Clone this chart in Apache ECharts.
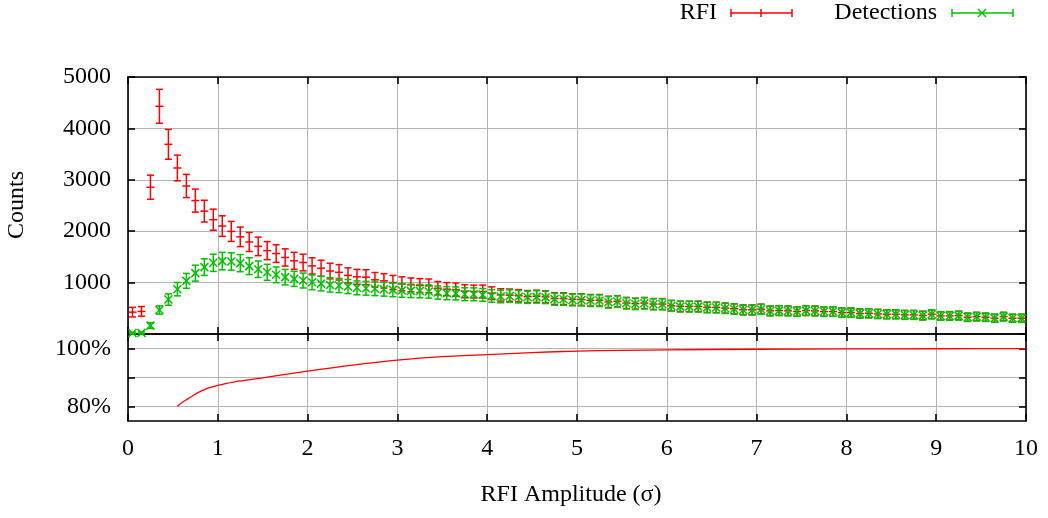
<!DOCTYPE html>
<html>
<head>
<meta charset="utf-8">
<script src="https://cdn.jsdelivr.net/npm/echarts@6/dist/echarts.min.js"></script>
<style>
html,body{margin:0;padding:0;background:#fff;}
#chart{width:1048px;height:518px;}
</style>
</head>
<body>
<div id="chart"></div>
<script>
// ---- data ----
const binCenters = [0.05,0.15,0.25,0.35,0.45,0.55,0.65,0.75,0.85,0.95,
1.05,1.15,1.25,1.35,1.45,1.55,1.65,1.75,1.85,1.95,
2.05,2.15,2.25,2.35,2.45,2.55,2.65,2.75,2.85,2.95,
3.05,3.15,3.25,3.35,3.45,3.55,3.65,3.75,3.85,3.95,
4.05,4.15,4.25,4.35,4.45,4.55,4.65,4.75,4.85,4.95,
5.05,5.15,5.25,5.35,5.45,5.55,5.65,5.75,5.85,5.95,
6.05,6.15,6.25,6.35,6.45,6.55,6.65,6.75,6.85,6.95,
7.05,7.15,7.25,7.35,7.45,7.55,7.65,7.75,7.85,7.95,
8.05,8.15,8.25,8.35,8.45,8.55,8.65,8.75,8.85,8.95,
9.05,9.15,9.25,9.35,9.45,9.55,9.65,9.75,9.85,9.95];

const rfiCounts = [425,440,2855,4430,3690,3230,2880,2595,2390,2224,
2100,1996,1890,1790,1705,1622,1565,1489,1424,1391,
1325,1280,1225,1200,1140,1112,1106,1054,1034,1001,
976,956,943,937,891,872,865,833,826,826,
794,761,755,745,728,735,722,690,688,672,
670,656,656,624,636,603,590,602,583,583,
550,537,536,536,520,517,504,491,471,470,
483,451,457,451,438,456,450,437,437,417,
417,398,404,391,385,385,372,372,359,385,
352,352,359,326,339,326,307,339,307,307];

const rfiErrors = [93,94,235,330,290,250,225,225,212,205,
200,195,190,185,180,176,172,168,165,162,
158,155,152,150,147,145,145,142,140,138,
136,135,134,133,130,128,128,126,125,125,
123,120,120,119,118,118,117,115,115,113,
113,112,112,110,111,108,107,108,106,106,
104,102,102,102,100,100,99,97,95,95,
96,93,94,93,92,94,93,92,92,90,
90,88,88,87,86,86,85,85,83,86,
82,82,83,79,81,79,77,81,77,77];

const detCounts = [20,22,163,468,670,872,1034,1184,1301,1385,
1418,1411,1379,1320,1260,1200,1151,1106,1073,1040,
1005,980,955,943,923,898,890,880,870,858,
845,839,835,826,806,794,790,774,772,761,
741,730,738,725,715,722,712,678,676,663,
663,650,650,618,631,598,585,598,579,579,
546,533,533,533,516,514,501,488,468,468,
481,449,455,449,436,455,449,436,436,416,
416,396,403,390,384,384,371,371,358,384,
351,351,358,325,338,325,306,338,306,306];

const detErrors = [15,15,55,80,110,130,145,155,162,168,
170,169,167,164,160,156,153,150,147,145,
143,141,139,138,137,135,134,133,133,132,
131,130,130,129,128,127,126,125,125,124,
122,122,122,121,120,121,120,117,117,116,
116,115,115,112,113,110,109,110,108,108,
105,104,104,104,102,102,101,99,97,97,
99,95,96,95,94,96,95,94,94,92,
92,90,90,89,88,88,87,87,85,88,
84,84,85,81,83,81,79,83,79,79];

const fracX = [0.55,0.6,0.67,0.73,0.78,0.85,0.9,1.0,1.1,1.2,1.5,2.0,2.5,3.0,3.5,4.0,4.5,5.0,5.5,6.0,7.0,8.0,9.0,10.0];
const fracPct = [80.1,81.3,82.7,83.9,84.8,85.8,86.4,87.3,88.0,88.6,89.9,92.2,94.3,96.0,97.2,97.9,98.6,99.1,99.35,99.55,99.75,99.85,99.92,99.97];

const xTicks = [0,1,2,3,4,5,6,7,8,9,10];
const countTicks = [1000,2000,3000,4000,5000];
const pctTicks = [80,100];
const pctGrid = [80,90,100];

// ---- chart ----
const FONT = '"Liberation Serif", "Times New Roman", serif';
const RED = '#ff0000';
const GREEN = '#00c000';
const GRID_COLOR = '#b3b3b3';
const LW = 1.5;

const chart = echarts.init(document.getElementById('chart'), null, {renderer: 'canvas'});

function errData(xs, ys, es) {
  return xs.map((x, i) => [x, ys[i], es[i]]);
}

function errRender(kind, color) {
  return function (params, api) {
    const x = api.value(0), y = api.value(1), e = api.value(2);
    const c = api.coord([x, y]);
    const hi = api.coord([x, y + e]);
    const lo = api.coord([x, y - e]);
    const cap = 3.5;
    const st = {stroke: color, lineWidth: LW, fill: null};
    const ch = [
      {type: 'line', shape: {x1: c[0], y1: hi[1], x2: c[0], y2: lo[1]}, style: st},
      {type: 'line', shape: {x1: c[0] - cap, y1: hi[1], x2: c[0] + cap, y2: hi[1]}, style: st},
      {type: 'line', shape: {x1: c[0] - cap, y1: lo[1], x2: c[0] + cap, y2: lo[1]}, style: st}
    ];
    if (kind === 'plus') {
      ch.push({type: 'line', shape: {x1: c[0] - 4, y1: c[1], x2: c[0] + 4, y2: c[1]}, style: st});
    } else {
      const s = 4;
      ch.push({type: 'line', shape: {x1: c[0] - s, y1: c[1] - s, x2: c[0] + s, y2: c[1] + s}, style: st});
      ch.push({type: 'line', shape: {x1: c[0] - s, y1: c[1] + s, x2: c[0] + s, y2: c[1] - s}, style: st});
    }
    return {type: 'group', children: ch};
  };
}

const axisLineStyle = {color: '#000', width: 1.6};
function xAx(grid, pos, labels, split) {
  return {
    type: 'value', gridIndex: grid, position: pos, min: 0, max: 10, interval: 1,
    axisLine: {show: true, onZero: false, lineStyle: axisLineStyle},
    axisTick: {show: true, inside: true, length: 7, lineStyle: axisLineStyle},
    axisLabel: {show: labels, color: '#000', fontSize: 24, fontFamily: FONT, margin: 16},
    splitLine: {show: split, lineStyle: {color: GRID_COLOR, width: 1}}
  };
}

const option = {
  animation: false,
  backgroundColor: '#fff',
  grid: [
    {left: 128, top: 77, width: 898, height: 257},
    {left: 128, top: 334, width: 898, height: 87}
  ],
  xAxis: [
    xAx(0, 'bottom', false, true),
    xAx(0, 'top', false, false),
    xAx(1, 'bottom', true, true),
    xAx(1, 'top', false, false)
  ],
  yAxis: [
    {
      type: 'value', gridIndex: 0, position: 'left', min: 0, max: 5000, interval: 1000,
      axisLine: {show: true, onZero: false, lineStyle: axisLineStyle},
      axisTick: {show: true, inside: true, length: 7, lineStyle: axisLineStyle},
      axisLabel: {show: true, color: '#000', fontSize: 24, fontFamily: FONT, margin: 17,
        formatter: v => (countTicks.indexOf(v) >= 0 ? String(v) : '')},
      splitLine: {show: true, lineStyle: {color: GRID_COLOR, width: 1}}
    },
    {
      type: 'value', gridIndex: 0, position: 'right', min: 0, max: 5000, interval: 1000,
      axisLine: {show: true, onZero: false, lineStyle: axisLineStyle},
      axisTick: {show: true, inside: true, length: 7, lineStyle: axisLineStyle},
      axisLabel: {show: false}, splitLine: {show: false}
    },
    {
      type: 'value', gridIndex: 1, position: 'left', min: 75, max: 105,
      axisLine: {show: true, onZero: false, lineStyle: axisLineStyle},
      axisTick: {show: true, inside: true, length: 7, lineStyle: axisLineStyle, customValues: pctGrid},
      axisLabel: {show: true, color: '#000', fontSize: 24, fontFamily: FONT, margin: 17,
        customValues: pctTicks, formatter: v => v + '%'},
      splitLine: {show: true, lineStyle: {color: GRID_COLOR, width: 1}}
    },
    {
      type: 'value', gridIndex: 1, position: 'right', min: 75, max: 105,
      axisLine: {show: true, onZero: false, lineStyle: axisLineStyle},
      axisTick: {show: true, inside: true, length: 7, lineStyle: axisLineStyle, customValues: pctGrid},
      axisLabel: {show: false}, splitLine: {show: false}
    }
  ],
  graphic: [
    {type: 'text', x: 17, y: 205, rotation: Math.PI / 2,
      style: {text: 'Counts', font: '24px ' + FONT, fill: '#000', align: 'center', verticalAlign: 'middle'}},
    {type: 'text', x: 571, y: 495,
      style: {text: 'RFI Amplitude (σ)', font: '24px ' + FONT, fill: '#000', align: 'center', verticalAlign: 'middle'}},
    // legend
    {type: 'text', x: 717, y: 13,
      style: {text: 'RFI', font: '24px ' + FONT, fill: '#000', align: 'right', verticalAlign: 'middle'}},
    {type: 'line', shape: {x1: 731, y1: 13, x2: 792, y2: 13}, style: {stroke: RED, lineWidth: LW}},
    {type: 'line', shape: {x1: 731, y1: 9, x2: 731, y2: 17}, style: {stroke: RED, lineWidth: LW}},
    {type: 'line', shape: {x1: 792, y1: 9, x2: 792, y2: 17}, style: {stroke: RED, lineWidth: LW}},
    {type: 'line', shape: {x1: 761, y1: 9, x2: 761, y2: 17}, style: {stroke: RED, lineWidth: LW}},
    {type: 'text', x: 937, y: 13,
      style: {text: 'Detections', font: '24px ' + FONT, fill: '#000', align: 'right', verticalAlign: 'middle'}},
    {type: 'line', shape: {x1: 952, y1: 13, x2: 1013, y2: 13}, style: {stroke: GREEN, lineWidth: LW}},
    {type: 'line', shape: {x1: 952, y1: 9, x2: 952, y2: 17}, style: {stroke: GREEN, lineWidth: LW}},
    {type: 'line', shape: {x1: 1013, y1: 9, x2: 1013, y2: 17}, style: {stroke: GREEN, lineWidth: LW}},
    {type: 'line', shape: {x1: 978, y1: 9, x2: 986, y2: 17}, style: {stroke: GREEN, lineWidth: LW}},
    {type: 'line', shape: {x1: 978, y1: 17, x2: 986, y2: 9}, style: {stroke: GREEN, lineWidth: LW}}
  ],
  series: [
    {
      name: 'RFI', type: 'custom', xAxisIndex: 0, yAxisIndex: 0, clip: false,
      renderItem: errRender('plus', RED),
      data: errData(binCenters, rfiCounts, rfiErrors),
      z: 3
    },
    {
      name: 'Detections', type: 'custom', xAxisIndex: 0, yAxisIndex: 0, clip: false,
      renderItem: errRender('cross', GREEN),
      data: errData(binCenters, detCounts, detErrors),
      z: 4
    },
    {
      name: 'Fraction', type: 'line', xAxisIndex: 2, yAxisIndex: 2,
      data: fracX.map((x, i) => [x, fracPct[i]]),
      showSymbol: false, smooth: 0.25,
      lineStyle: {color: RED, width: 1.3},
      z: 3
    }
  ]
};
chart.setOption(option);
</script>
</body>
</html>
